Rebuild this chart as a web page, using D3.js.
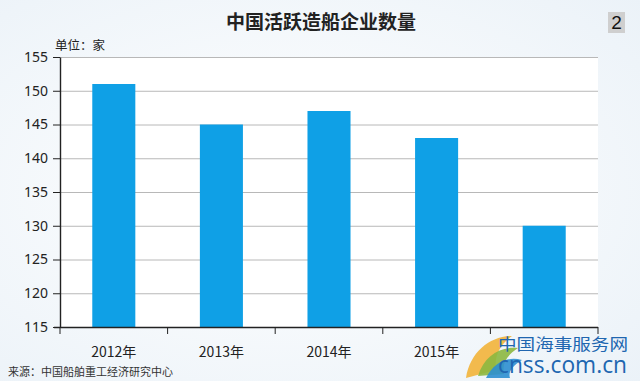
<!DOCTYPE html>
<html>
<head>
<meta charset="utf-8">
<script src="https://cdn.jsdelivr.net/npm/d3@7"></script>
<style>
  body { margin: 0; background: #f1f6fa; }
  svg { display: block; }
</style>
</head>
<body>
<svg width="640" height="381"></svg>
<script>
// dati
var anni = ["2012年", "2013年", "2014年", "2015年", "2016年"];
var imprese = [151, 145, 147, 143, 130];
var tickY = [115, 120, 125, 130, 135, 140, 145, 150, 155];

var svg = d3.select("svg"),
width = +svg.attr("width"),
height = +svg.attr("height");

var margin = {left: 60, right: 42, top: 57, bottom: 54};
var x0 = margin.left, x1 = width - margin.right;
var y0 = margin.top, y1 = height - margin.bottom;

// sfondo leggermente azzurro
var grad = svg.append("defs").append("radialGradient").attr("id", "bg")
  .attr("cx", "45%").attr("cy", "50%").attr("r", "75%");
grad.append("stop").attr("offset", "0%").attr("stop-color", "#ffffff");
grad.append("stop").attr("offset", "100%").attr("stop-color", "#ebf2f8");
svg.append("rect").attr("width", width).attr("height", height).attr("fill", "url(#bg)");

// area del grafico bianca
svg.append("rect").attr("x", x0).attr("y", y0).attr("width", x1 - x0).attr("height", y1 - y0)
  .attr("fill", "#ffffff");

var x = d3.scaleBand().domain(anni).range([x0, x1]).paddingInner(0.6).paddingOuter(0.3);
var y = d3.scaleLinear().domain([115, 155]).range([y1, y0]);

// griglia
svg.append("g").selectAll("line").data(tickY.slice(1)).enter().append("line")
  .attr("x1", x0).attr("x2", x1)
  .attr("y1", function (d) { return y(d) + 0.5; })
  .attr("y2", function (d) { return y(d) + 0.5; })
  .attr("stroke", "#b8b8b8").attr("stroke-width", 1);

// barre
svg.append("g").selectAll("rect").data(imprese).enter().append("rect")
  .attr("x", function (d, i) { return x(anni[i]); })
  .attr("y", function (d) { return y(d); })
  .attr("width", x.bandwidth())
  .attr("height", function (d) { return y1 - y(d); })
  .attr("fill", "#0fa0e6");

// asse y
var ay = svg.append("g").attr("transform", "translate(" + x0 + ",0)")
  .call(d3.axisLeft(y).tickValues(tickY).tickSize(7).tickPadding(5).tickSizeOuter(0));
ay.select(".domain").attr("stroke", "#222").attr("stroke-width", 1.4);
ay.selectAll(".tick line").attr("stroke", "#222");
ay.selectAll("text").attr("font-family", "'Noto Sans', 'DejaVu Sans', sans-serif")
  .attr("font-size", 14).attr("fill", "#222");

// asse x con tacche sui bordi delle categorie
var ax = svg.append("g").attr("transform", "translate(0," + y1 + ")");
ax.append("line").attr("x1", x0 - 6).attr("x2", x1).attr("y1", 0.5).attr("y2", 0.5)
  .attr("stroke", "#222").attr("stroke-width", 1.4);
var bordi = d3.range(anni.length + 1).map(function (i) { return x0 + i * x.step(); });
ax.selectAll("line.t").data(bordi).enter().append("line").attr("class", "t")
  .attr("x1", function (d) { return d; }).attr("x2", function (d) { return d; })
  .attr("y1", 0).attr("y2", 7).attr("stroke", "#222");
// l'etichetta 2016 è coperta dalla filigrana nell'originale
ax.selectAll("text").data(anni.slice(0, 4)).enter().append("text")
  .attr("x", function (d) { return x(d) + x.bandwidth() / 2; })
  .attr("y", 30)
  .attr("text-anchor", "middle")
  .attr("font-family", "'Noto Sans CJK SC', sans-serif")
  .attr("font-size", 14).attr("fill", "#222")
  .text(function (d) { return d; });

// titolo
svg.append("text").attr("x", 321).attr("y", 29).attr("text-anchor", "middle")
  .attr("font-family", "'Noto Sans CJK SC', sans-serif").attr("font-weight", "bold")
  .attr("font-size", 19).attr("fill", "#222").text("中国活跃造船企业数量");

// unita
svg.append("text").attr("x", 55).attr("y", 50)
  .attr("font-family", "'Noto Sans CJK SC', sans-serif")
  .attr("font-size", 12.5).attr("fill", "#222").text("单位：家");

// numero pagina
svg.append("rect").attr("x", 608).attr("y", 12).attr("width", 17).attr("height", 21).attr("fill", "#cfcfcf");
svg.append("text").attr("x", 616.5).attr("y", 29).attr("text-anchor", "middle")
  .attr("font-family", "'Liberation Sans', sans-serif").attr("font-size", 19)
  .attr("fill", "#111").text("2");

// fonte
svg.append("text").attr("x", 8).attr("y", 376)
  .attr("font-family", "'Noto Sans CJK SC', sans-serif")
  .attr("font-size", 11).attr("fill", "#333").text("来源：中国船舶重工经济研究中心");

// filigrana
var wm = svg.append("g");
wm.append("path").attr("d", "M466,378 C470,352 490,336 512,336 C500,344 494,356 496,370 Z").attr("fill", "#f2b43a").attr("opacity", 0.9);
wm.append("path").attr("d", "M478,376 C484,356 500,346 518,348 C506,356 502,364 504,374 Z").attr("fill", "#8cb840").attr("opacity", 0.9);
wm.append("path").attr("d", "M486,378 C494,362 508,356 522,360 C512,366 508,372 510,378 Z").attr("fill", "#2c8fd0").attr("opacity", 0.9);
wm.append("text").attr("x", 498).attr("y", 350)
  .attr("font-family", "'Noto Sans CJK SC', sans-serif").attr("font-size", 16)
  .attr("textLength", 130).attr("lengthAdjust", "spacingAndGlyphs")
  .attr("fill", "#2066b0").text("中国海事服务网");
wm.append("text").attr("x", 498).attr("y", 373)
  .attr("font-family", "'Open Sans', sans-serif").attr("font-size", 23)
  .attr("textLength", 129).attr("lengthAdjust", "spacingAndGlyphs")
  .attr("fill", "#2066b0").text("cnss.com.cn");
</script>
</body>
</html>
